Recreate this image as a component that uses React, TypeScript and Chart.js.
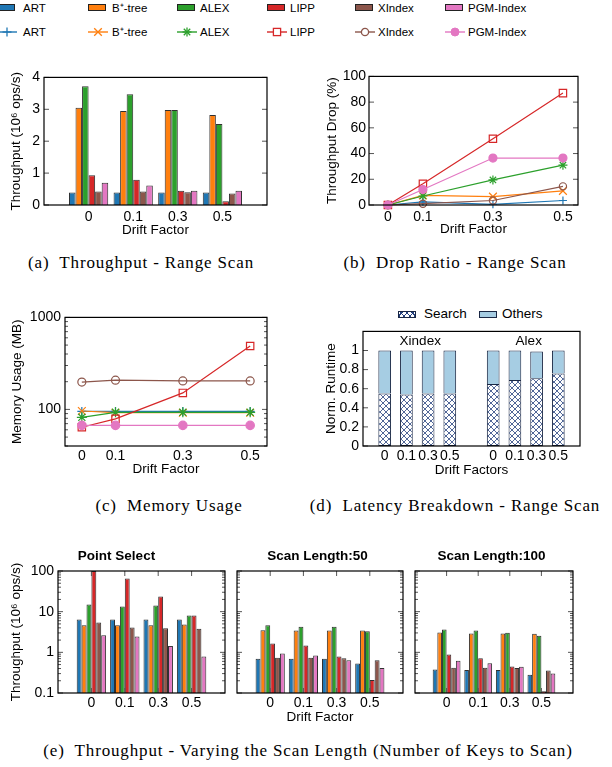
import React, { useEffect, useRef } from 'react';
import { Chart, registerables } from 'chart.js';
Chart.register(...registerables);

const SANS = '"Liberation Sans", Arial, Helvetica, sans-serif';
const SERIF = '"Liberation Serif", "Times New Roman", serif';
Chart.defaults.font.family = SANS;
Chart.defaults.color = '#000';

// ---------- data ----------
const indexNames = ['ART', 'B⁺-tree', 'ALEX', 'LIPP', 'XIndex', 'PGM-Index'];
const indexColors = ['#1f77b4', '#ff7f0e', '#2ca02c', '#d62728', '#8c564b', '#e377c2'];
const pointStyles = ['cross', 'crossRot', 'star', 'rect', 'circle', 'circle'];
const driftLabels = ['0', '0.1', '0.3', '0.5'];
const driftValues = [0, 0.1, 0.3, 0.5];

// (a) range-scan throughput (10^6 ops/s)
const rangeART = [0.39, 0.39, 0.39, 0.39];
const rangeBtree = [3.05, 2.95, 2.98, 2.82];
const rangeALEX = [3.72, 3.47, 2.98, 2.54];
const rangeLIPP = [0.93, 0.79, 0.45, 0.12];
const rangeXIndex = [0.42, 0.42, 0.4, 0.36];
const rangePGM = [0.7, 0.61, 0.45, 0.45];

// (b) throughput drop (%)
const dropART = [0, 2.5, 0.5, 3.5];
const dropBtree = [0, 7.5, 6.5, 11];
const dropALEX = [0, 7, 19.5, 31];
const dropLIPP = [0, 16.5, 51.5, 87];
const dropXIndex = [0, 1, 3.5, 14.5];
const dropPGM = [0, 12, 36.5, 36.5];

// (c) memory usage (MB)
const memART = [95, 95, 95, 95];
const memBtree = [96, 92, 92, 92];
const memALEX = [82, 93, 93, 93];
const memLIPP = [64, 79, 151, 489];
const memXIndex = [198, 208, 204, 204];
const memPGM = [67, 67, 67, 67];

// (d) latency breakdown
const breakdownGroups = ['Xindex', 'Alex'];
const breakdownParts = ['Search', 'Others'];
const xindexSearch = [0.55, 0.54, 0.55, 0.55];
const xindexTotal = [1, 1, 1, 1];
const alexSearch = [0.65, 0.69, 0.71, 0.76];
const alexTotal = [1, 1, 0.99, 1];

// (e) throughput with varying scan length (10^6 ops/s)
const panelTitles = ['Point Select', 'Scan Length:50', 'Scan Length:100'];
const pointART = [6.4, 6.4, 6.4, 6.4];
const pointBtree = [4.66, 4.66, 4.66, 4.83];
const pointALEX = [15, 13.4, 14.2, 8.05];
const pointLIPP = [100, 65.8, 23.7, 8.0];
const pointXIndex = [5.4, 4.08, 3.93, 3.78];
const pointPGM = [2.64, 2.45, 1.44, 0.79];

const scan50ART = [0.7, 0.7, 0.7, 0.53];
const scan50Btree = [3.5, 3.44, 3.44, 3.44];
const scan50ALEX = [4.66, 4.24, 4.24, 3.31];
const scan50LIPP = [1.64, 1.47, 0.79, 0.21];
const scan50XIndex = [0.74, 0.74, 0.72, 0.64];
const scan50PGM = [0.93, 0.83, 0.64, 0.41];

const scan100ART = [0.38, 0.37, 0.37, 0.28];
const scan100Btree = [3.07, 2.9, 2.9, 2.86];
const scan100ALEX = [3.64, 3.44, 3.01, 2.54];
const scan100LIPP = [0.88, 0.72, 0.45, 0.11];
const scan100XIndex = [0.42, 0.42, 0.41, 0.36];
const scan100PGM = [0.62, 0.54, 0.44, 0.3];

const rangeSeries = [rangeART, rangeBtree, rangeALEX, rangeLIPP, rangeXIndex, rangePGM];
const dropSeries = [dropART, dropBtree, dropALEX, dropLIPP, dropXIndex, dropPGM];
const memSeries = [memART, memBtree, memALEX, memLIPP, memXIndex, memPGM];
const pointSeries = [pointART, pointBtree, pointALEX, pointLIPP, pointXIndex, pointPGM];
const scan50Series = [scan50ART, scan50Btree, scan50ALEX, scan50LIPP, scan50XIndex, scan50PGM];
const scan100Series = [scan100ART, scan100Btree, scan100ALEX, scan100LIPP, scan100XIndex, scan100PGM];

// ---------- helpers ----------
const TICK_FONT = { size: 14 };
const TITLE_FONT = { size: 13.5 };

const framePlugin = {
  id: 'frame',
  afterDraw(chart: any, _args: any, o: any) {
    const { ctx, chartArea: a, scales } = chart;
    const x = scales.x, y = scales.y;
    if (!x || !y) return;
    ctx.save();
    ctx.lineWidth = 1;
    ctx.strokeStyle = '#555';
    const seg = (x1: number, y1: number, x2: number, y2: number) => {
      ctx.beginPath(); ctx.moveTo(x1, y1); ctx.lineTo(x2, y2); ctx.stroke();
    };
    const T = 5, M = 3;
    if (o && o.xTicks) {
      x.ticks.forEach((t: any) => {
        const p = x.getPixelForValue(t.value);
        seg(p, a.bottom, p, a.bottom - T);
        seg(p, a.top, p, a.top + T);
      });
    }
    y.ticks.forEach((t: any) => {
      const p = y.getPixelForValue(t.value);
      seg(a.left, p, a.left + T, p);
      if (!o || o.yRight !== false) seg(a.right, p, a.right - T, p);
    });
    if (y.type === 'logarithmic') {
      const e0 = Math.floor(Math.log10(y.min)), e1 = Math.ceil(Math.log10(y.max));
      for (let e = e0; e <= e1; e++) {
        for (let k = 2; k <= 9; k++) {
          const v = k * Math.pow(10, e);
          if (v < y.min || v > y.max) continue;
          const p = y.getPixelForValue(v);
          seg(a.left, p, a.left + M, p);
          seg(a.right, p, a.right - M, p);
        }
      }
    }
    ctx.strokeStyle = '#000';
    ctx.lineWidth = 1.2;
    ctx.strokeRect(a.left, a.top, a.right - a.left, a.bottom - a.top);
    ctx.restore();
  },
};
Chart.register(framePlugin as any);

function axisX(B: number, extra: any) {
  return {
    offset: false,
    grid: { display: false, drawTicks: false },
    border: { display: false },
    afterFit: (s: any) => { s.height = B; },
    ...extra,
  };
}
function axisY(L: number, extra: any) {
  return {
    grid: { display: false, drawTicks: false },
    border: { display: false },
    afterFit: (s: any) => { s.width = L; },
    ...extra,
  };
}
function xTitle(text: string) {
  return { display: true, text, font: TITLE_FONT, padding: { top: 0, bottom: 0 } };
}

function baseOpts(T: number, R: number, x: any, y: any, frame: any, title?: any) {
  return {
    responsive: false,
    animation: false,
    devicePixelRatio: 1,
    layout: { padding: { top: title ? 0 : T, right: R, left: 0, bottom: 0 } },
    plugins: {
      legend: { display: false },
      tooltip: { enabled: false },
      title: title || { display: false },
      frame,
    },
    scales: { x, y },
  };
}

function groupedBarDatasets(series: number[][]) {
  return series.map((vals, i) => ({
    label: indexNames[i],
    data: vals.map((v, j) => ({ x: j, y: v })),
    backgroundColor: indexColors[i],
    borderColor: 'rgba(25,25,25,0.9)',
    borderWidth: 1,
    categoryPercentage: 0.88,
    barPercentage: 1,
  }));
}

function lineDatasets(series: number[][], radii: number[]) {
  return series.map((vals, i) => ({
    label: indexNames[i],
    data: vals.map((v, j) => ({ x: driftValues[j], y: v })),
    borderColor: indexColors[i],
    backgroundColor: indexColors[i],
    borderWidth: 1.2,
    pointStyle: pointStyles[i],
    pointRadius: radii[i],
    pointBorderWidth: 1.2,
    pointBorderColor: indexColors[i],
    pointBackgroundColor: i === 5 ? indexColors[i] : 'rgba(255,255,255,0)',
    clip: false,
    order: -i,
  }));
}

function makeHatch(): any {
  const n = 6;
  const c = document.createElement('canvas');
  c.width = n; c.height = n;
  const g = c.getContext('2d')!;
  g.fillStyle = '#fff'; g.fillRect(0, 0, n, n);
  g.strokeStyle = '#24407e'; g.lineWidth = 0.8;
  g.beginPath();
  g.moveTo(0, 0); g.lineTo(n, n);
  g.moveTo(n, 0); g.lineTo(0, n);
  g.stroke();
  return g.createPattern(c, 'repeat');
}

// ---------- chart configs ----------
const barX = (B: number, pad: number, title: any) => axisX(B, {
  type: 'linear', min: -1, max: 4,
  afterBuildTicks: (s: any) => { s.ticks = driftLabels.map((_, i) => ({ value: i })); },
  ticks: { font: TICK_FONT, padding: pad, maxRotation: 0, autoSkip: false, callback: (v: number) => driftLabels[v] },
  title,
});

const cfgA = () => ({
  type: 'bar',
  data: { datasets: groupedBarDatasets(rangeSeries) },
  options: baseOpts(10, 13,
    barX(33, 4, xTitle('Drift Factor')),
    axisY(36, {
      min: 0, max: 4,
      ticks: { font: TICK_FONT, padding: 4, stepSize: 1 },
      title: xTitle('Throughput (10⁶ ops/s)'),
    }),
    { xTicks: false }),
});

const lineX = (B: number, min: number, max: number, pad: number) => axisX(B, {
  type: 'linear', min, max,
  afterBuildTicks: (s: any) => { s.ticks = driftValues.map((v) => ({ value: v })); },
  ticks: { font: TICK_FONT, padding: pad, maxRotation: 0, autoSkip: false, callback: (v: number) => driftLabels[driftValues.indexOf(v)] },
  title: xTitle('Drift Factor'),
});

const cfgB = () => ({
  type: 'line',
  data: { datasets: lineDatasets(dropSeries, [4, 5.5, 4.5, 5.2, 3.6, 4]) },
  options: baseOpts(10, 22,
    lineX(32, -0.054, 0.543, 4),
    axisY(45, {
      min: 0, max: 100,
      ticks: { font: TICK_FONT, padding: 3, stepSize: 20 },
      title: xTitle('Throughput Drop (%)'),
    }),
    { xTicks: false }),
});

const cfgC = () => ({
  type: 'line',
  data: { datasets: lineDatasets(memSeries, [4.5, 5.5, 5, 5.2, 4, 4.2]) },
  options: baseOpts(10, 13,
    lineX(31, -0.05, 0.55, 2),
    axisY(56, {
      type: 'logarithmic', min: 40, max: 1000,
      afterBuildTicks: (s: any) => { s.ticks = [100, 1000].map((v) => ({ value: v })); },
      ticks: { font: TICK_FONT, padding: 4, callback: (v: number) => String(v) },
      title: xTitle('Memory Usage (MB)'),
    }),
    { xTicks: false }),
});

const cfgD = () => {
  const hatch = makeHatch();
  const xs = [0, 1, 2, 3, 5, 6, 7, 8];
  const search = [...xindexSearch, ...alexSearch];
  const total = [...xindexTotal, ...alexTotal];
  const groupLabelPlugin = {
    id: 'groupLabels',
    afterDatasetsDraw(chart: any) {
      const { ctx, scales } = chart;
      ctx.save();
      ctx.font = `13.5px ${SANS}`;
      ctx.fillStyle = '#000';
      ctx.textAlign = 'center';
      ctx.textBaseline = 'middle';
      breakdownGroups.forEach((g, gi) => {
        const cx = (scales.x.getPixelForValue(gi * 5) + scales.x.getPixelForValue(gi * 5 + 3)) / 2 + 3;
        ctx.fillText(g, cx, scales.y.getPixelForValue(1.1));
      });
      ctx.restore();
    },
  };
  return {
    type: 'bar',
    plugins: [groupLabelPlugin],
    data: {
      datasets: [
        {
          label: breakdownParts[0],
          data: xs.map((x, i) => ({ x, y: search[i] })),
          backgroundColor: hatch, borderColor: '#1a2744', borderWidth: 1,
          categoryPercentage: 0.585, barPercentage: 1, borderSkipped: false,
        },
        {
          label: breakdownParts[1],
          data: xs.map((x, i) => ({ x, y: +(total[i] - search[i]).toFixed(3) })),
          backgroundColor: '#a6cde3', borderColor: '#1a2744', borderWidth: 1,
          categoryPercentage: 0.585, barPercentage: 1, borderSkipped: 'start',
        },
      ],
    },
    options: baseOpts(10, 20,
      axisX(32, {
        type: 'linear', min: -1, max: 9, stacked: true,
        afterBuildTicks: (s: any) => { s.ticks = xs.map((v) => ({ value: v })); },
        ticks: { font: TICK_FONT, padding: 2, maxRotation: 0, autoSkip: false, callback: (v: number) => driftLabels[v % 5] },
        title: xTitle('Drift Factors'),
      }),
      axisY(40, {
        min: 0, max: 1.2, stacked: true,
        afterBuildTicks: (s: any) => { s.ticks = [0, 0.2, 0.4, 0.6, 0.8, 1].map((v) => ({ value: v })); },
        ticks: { font: TICK_FONT, padding: 4, callback: (v: number) => String(v) },
        title: xTitle('Norm. Runtime'),
      }),
      { xTicks: false, yRight: false }),
  };
};

const cfgE = (series: number[][], idx: number) => () => {
  const L = idx === 0 ? 50 : 5;
  const R = idx === 0 ? 50 : 5;
  return {
    type: 'bar',
    data: { datasets: groupedBarDatasets(series) },
    options: baseOpts(23, R,
      barX(32, 2, idx === 1 ? xTitle('Drift Factor') : { display: false }),
      axisY(L, {
        type: 'logarithmic', min: 0.1, max: 100,
        afterBuildTicks: (s: any) => { s.ticks = [0.1, 1, 10, 100].map((v) => ({ value: v })); },
        ticks: { display: idx === 0, font: TICK_FONT, padding: 4, callback: (v: number) => String(v) },
        title: idx === 0 ? xTitle('Throughput (10⁶ ops/s)') : { display: false },
      }),
      { xTicks: true },
      {
        display: true, text: panelTitles[idx],
        font: { size: 13.5, weight: 'bold' },
        padding: { top: 0, bottom: 6.8 },
      }),
  };
};

// ---------- components ----------
function ChartBox({ l, t, w, h, make }: { l: number; t: number; w: number; h: number; make: () => any }) {
  const ref = useRef<HTMLCanvasElement>(null);
  useEffect(() => {
    const chart = new Chart(ref.current as HTMLCanvasElement, make());
    return () => chart.destroy();
  }, []);
  return (
    <canvas ref={ref} width={w} height={h}
      style={{ position: 'absolute', left: l, top: t, width: w, height: h }} />
  );
}

function Marker({ i }: { i: number }) {
  const c = indexColors[i];
  const sw = 1.3;
  const cx = 10, cy = 6;
  let shape: any = null;
  if (i === 0) shape = (<g stroke={c} strokeWidth={sw}><line x1={cx - 4.5} y1={cy} x2={cx + 4.5} y2={cy} /><line x1={cx} y1={cy - 4.5} x2={cx} y2={cy + 4.5} /></g>);
  if (i === 1) shape = (<g stroke={c} strokeWidth={sw}><line x1={cx - 3.8} y1={cy - 3.8} x2={cx + 3.8} y2={cy + 3.8} /><line x1={cx + 3.8} y1={cy - 3.8} x2={cx - 3.8} y2={cy + 3.8} /></g>);
  if (i === 2) shape = (<g stroke={c} strokeWidth={sw}><line x1={cx - 4.5} y1={cy} x2={cx + 4.5} y2={cy} /><line x1={cx} y1={cy - 4.5} x2={cx} y2={cy + 4.5} /><line x1={cx - 3.2} y1={cy - 3.2} x2={cx + 3.2} y2={cy + 3.2} /><line x1={cx + 3.2} y1={cy - 3.2} x2={cx - 3.2} y2={cy + 3.2} /></g>);
  if (i === 3) shape = <rect x={cx - 3.6} y={cy - 3.6} width={7.2} height={7.2} fill="#fff" stroke={c} strokeWidth={sw} />;
  if (i === 4) shape = <circle cx={cx} cy={cy} r={3.6} fill="#fff" stroke={c} strokeWidth={sw} />;
  if (i === 5) shape = <circle cx={cx} cy={cy} r={4} fill={c} stroke={c} strokeWidth={1} />;
  return (
    <svg width={20} height={12} style={{ position: 'absolute', left: 0, top: 0 }}>
      <line x1={0} y1={cy} x2={20} y2={cy} stroke={c} strokeWidth={1.4} />
      {shape}
    </svg>
  );
}

const legendSwatchX = [-3, 88, 177, 267, 355, 445];
const legendTextX = [23, 112, 200, 290, 378, 468];

function TopLegend() {
  const txt: any = { position: 'absolute', font: `11.5px ${SANS}`, lineHeight: '14px', whiteSpace: 'nowrap', color: '#000' };
  return (
    <>
      {indexNames.map((n, i) => (
        <React.Fragment key={'r1' + i}>
          <div style={{ position: 'absolute', left: legendSwatchX[i], top: 4, width: 18, height: 7, boxSizing: 'border-box', background: indexColors[i], border: '1px solid #222' }} />
          <div style={{ ...txt, left: legendTextX[i], top: 0.5 }}>{n}</div>
        </React.Fragment>
      ))}
      {indexNames.map((n, i) => (
        <React.Fragment key={'r2' + i}>
          <div style={{ position: 'absolute', left: legendSwatchX[i], top: 25.5, width: 20, height: 12 }}><Marker i={i} /></div>
          <div style={{ ...txt, left: legendTextX[i], top: 24.5 }}>{n}</div>
        </React.Fragment>
      ))}
    </>
  );
}

function BreakdownLegend() {
  const txt: any = { position: 'absolute', font: `13.5px ${SANS}`, lineHeight: '16px', whiteSpace: 'nowrap', color: '#000', top: 306 };
  const hatchCss = 'repeating-linear-gradient(45deg, #24407e 0 0.8px, transparent 0.8px 4px), repeating-linear-gradient(-45deg, #24407e 0 0.8px, transparent 0.8px 4px)';
  return (
    <>
      <div style={{ position: 'absolute', left: 398, top: 311, width: 18, height: 7, boxSizing: 'border-box', border: '1px solid #1a2744', backgroundColor: '#fff', backgroundImage: hatchCss }} />
      <div style={{ ...txt, left: 424 }}>{breakdownParts[0]}</div>
      <div style={{ position: 'absolute', left: 479, top: 311, width: 18, height: 7, boxSizing: 'border-box', border: '1px solid #1a2744', background: '#a6cde3' }} />
      <div style={{ ...txt, left: 502 }}>{breakdownParts[1]}</div>
    </>
  );
}

function Caption({ cx, cy, text }: { cx: number; cy: number; text: string }) {
  return (
    <div style={{ position: 'absolute', left: cx - 300, top: cy - 10, width: 600, textAlign: 'center', font: `17px ${SERIF}`, letterSpacing: '0.85px', lineHeight: '20px', whiteSpace: 'pre', color: '#000' }}>
      {text}
    </div>
  );
}

export default function App() {
  return (
    <div style={{ position: 'absolute', left: 0, top: 0, width: 612, height: 767, background: '#fff', overflow: 'hidden' }}>
      <TopLegend />
      <ChartBox l={8} t={65} w={272} h={173} make={cfgA} />
      <ChartBox l={324} t={65} w={276} h={172} make={cfgB} />
      <Caption cx={141} cy={263} text={'(a)  Throughput - Range Scan'} />
      <Caption cx={455} cy={263} text={'(b)  Drop Ratio - Range Scan'} />
      <ChartBox l={9} t={305} w={271} h={172} make={cfgC} />
      <BreakdownLegend />
      <ChartBox l={323} t={319} w={277} h={159} make={cfgD} />
      <Caption cx={169} cy={506} text={'(c)  Memory Usage'} />
      <Caption cx={455} cy={506} text={'(d)  Latency Breakdown - Range Scan'} />
      <ChartBox l={8} t={548} w={267} h={177} make={cfgE(pointSeries, 0)} />
      <ChartBox l={232} t={548} w={176} h={177} make={cfgE(scan50Series, 1)} />
      <ChartBox l={410} t={548} w={168} h={177} make={cfgE(scan100Series, 2)} />
      <Caption cx={308} cy={751} text={'(e)  Throughput - Varying the Scan Length (Number of Keys to Scan)'} />
    </div>
  );
}
